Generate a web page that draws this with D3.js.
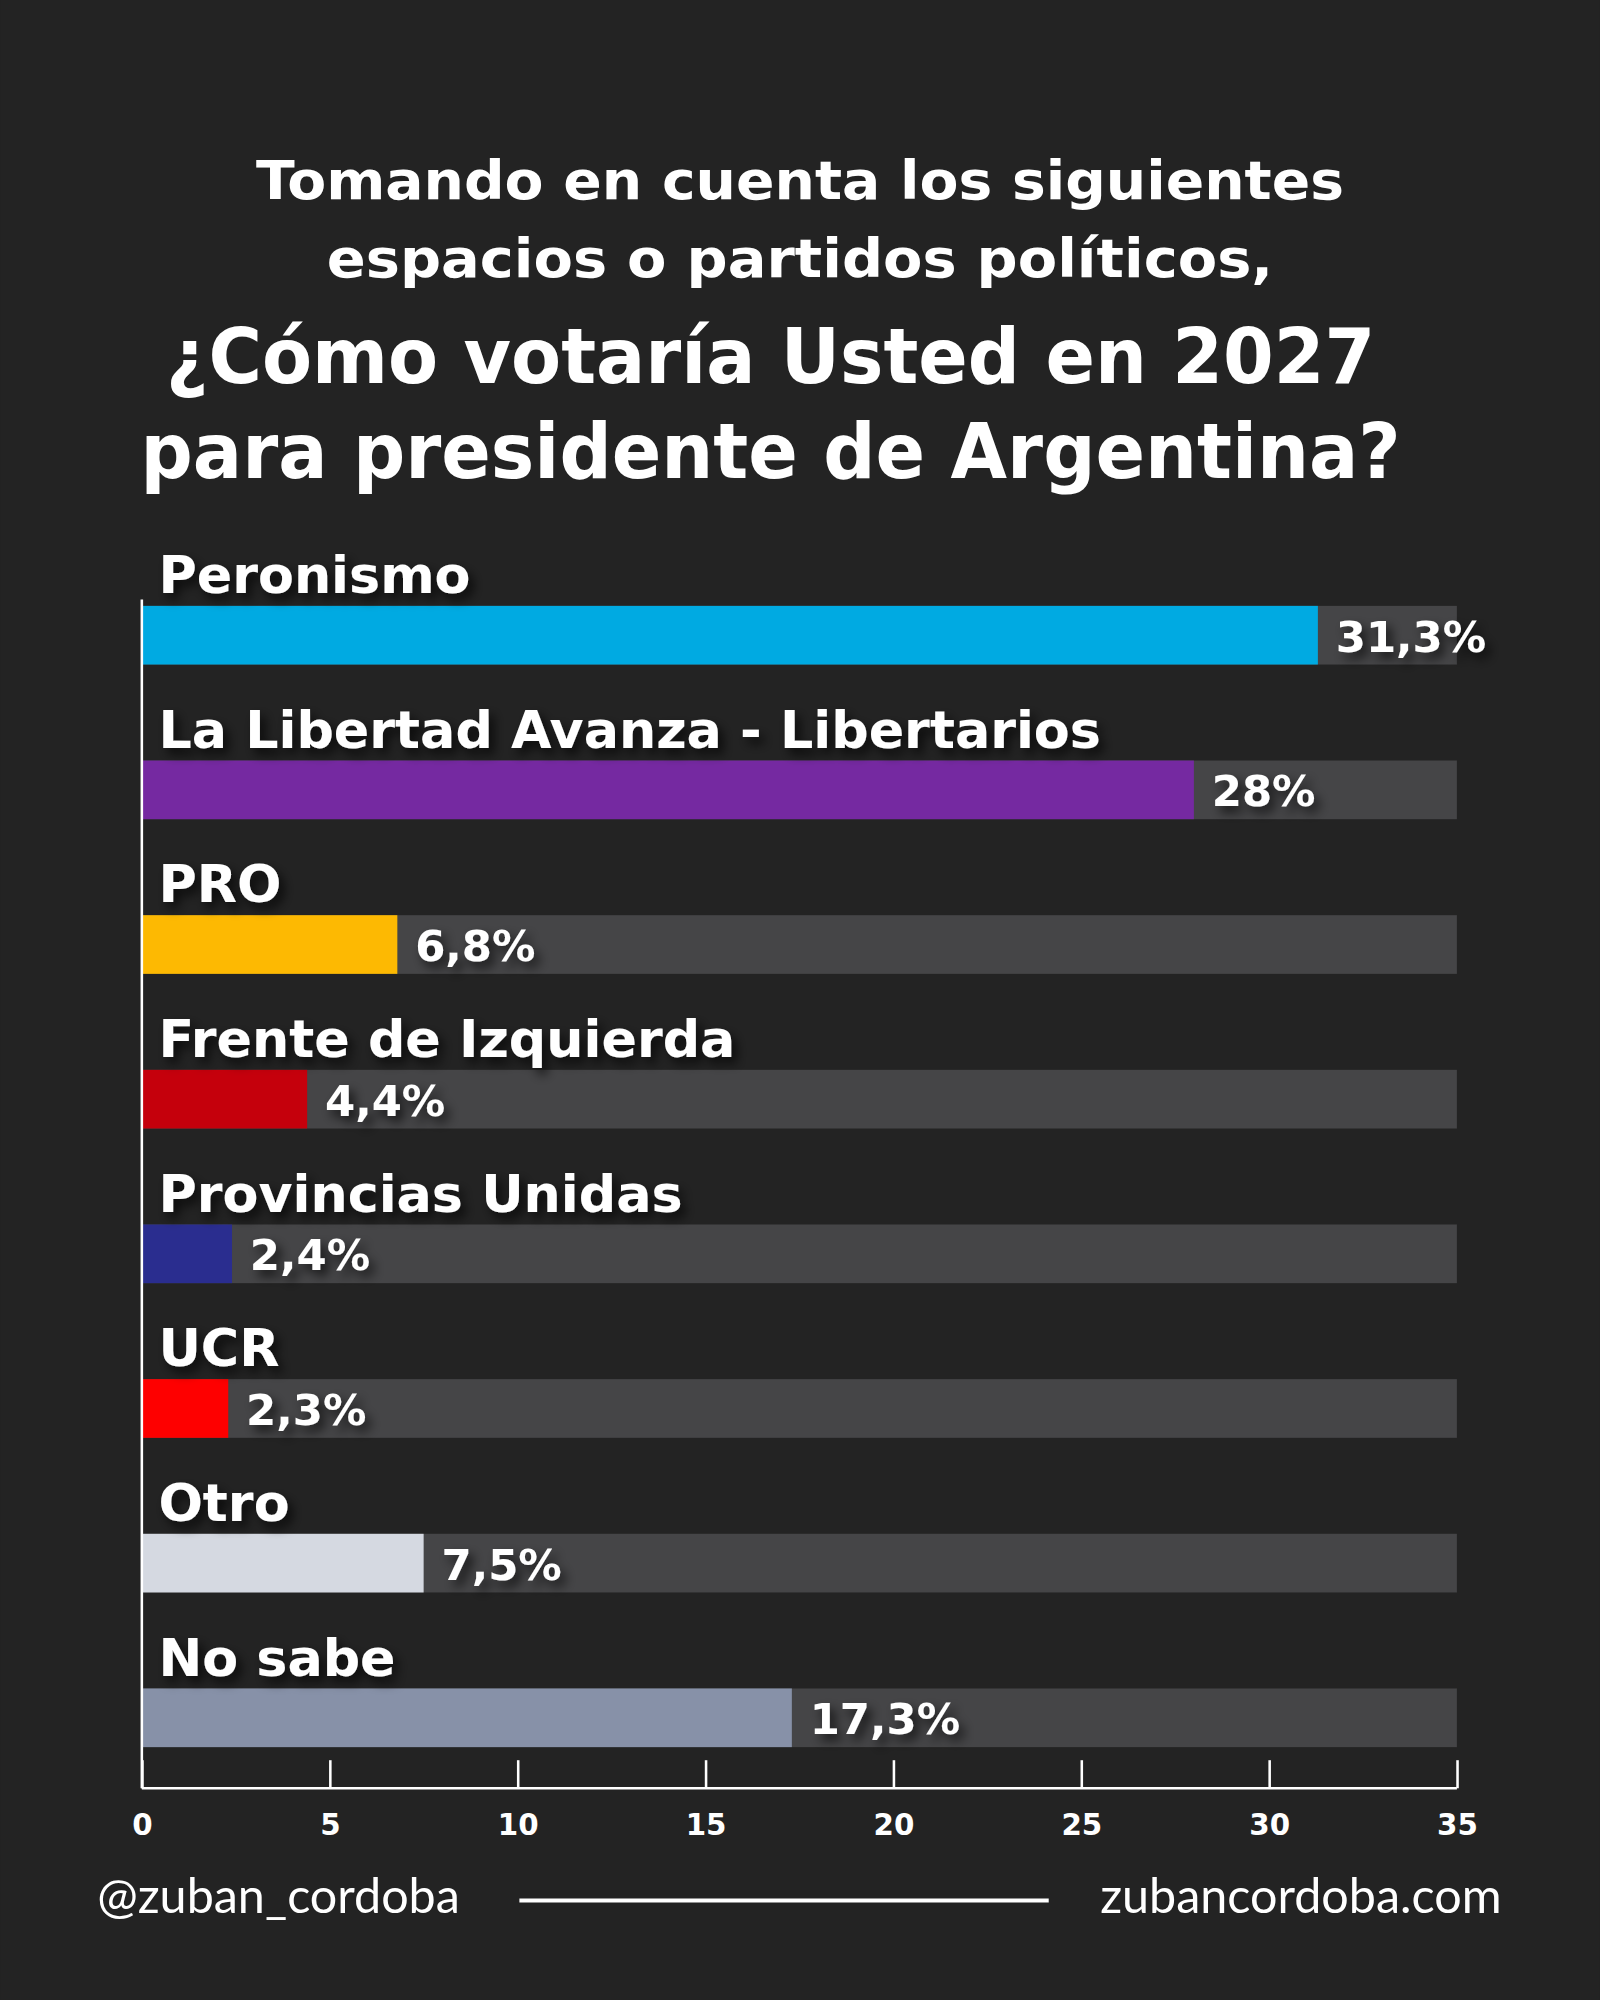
<!DOCTYPE html>
<html>
<head>
<meta charset="utf-8">
<script src="https://cdn.jsdelivr.net/npm/d3@7"></script>
<style>
  body { margin:0; background:#232323; }
  text { font-family: "DejaVu Sans", sans-serif; fill:#fff; }
</style>
</head>
<body>
<div id="chart"></div>
<script>
// chart data
const parties = ["Peronismo", "La Libertad Avanza - Libertarios", "PRO", "Frente de Izquierda",
                 "Provincias Unidas", "UCR", "Otro", "No sabe"];
const values = [31.3, 28, 6.8, 4.4, 2.4, 2.3, 7.5, 17.3];
const valueLabels = ["31,3%", "28%", "6,8%", "4,4%", "2,4%", "2,3%", "7,5%", "17,3%"];
const colors = ["#00aae2", "#7529a1", "#fdb902", "#c5000c", "#2a2d8f", "#fe0000", "#d5d9e1", "#8791a8"];
const ticks = [0, 5, 10, 15, 20, 25, 30, 35];

// drawn in 1254x1568 units, stretched to 1600x2000
const W = 1254, H = 1568;
const svg = d3.select("#chart").append("svg")
  .attr("width", 1600).attr("height", 2000)
  .attr("viewBox", [0, 0, W, H]);

svg.append("rect").attr("width", W).attr("height", H).attr("fill", "#232323");

// drop shadow for labels
const f = svg.append("defs").append("filter").attr("id", "sh")
  .attr("x", "-10%").attr("y", "-30%").attr("width", "130%").attr("height", "180%");
f.append("feDropShadow").attr("dx", 4).attr("dy", 5).attr("stdDeviation", 4)
  .attr("flood-color", "#000").attr("flood-opacity", 0.7);

// title
const titles = [
  {t:"Tomando en cuenta los siguientes", y:156, s:42, w:853},
  {t:"espacios o partidos políticos,", y:217, s:42, w:742},
  {t:"¿Cómo votaría Usted en 2027", y:300, s:60, w:948},
  {t:"para presidente de Argentina?", y:375, s:60, w:988}
];
svg.selectAll(".title").data(titles).enter().append("text")
  .attr("class", "title")
  .attr("x", (d, i) => i < 2 ? 627 : 604)
  .attr("y", d => d.y)
  .attr("text-anchor", "middle")
  .attr("font-size", d => d.s)
  .attr("font-weight", "bold")
  .attr("textLength", d => d.w)
  .attr("lengthAdjust", "spacingAndGlyphs")
  .text(d => d.t);

const x = d3.scaleLinear().domain([0, 35]).range([111, 1142]);
const y = d3.scaleBand().domain(d3.range(parties.length)).range([415, 1385]).paddingInner(0);
const barH = 46;
const barY = i => y(i) + 60;

// tracks
svg.selectAll(".track").data(values).enter().append("rect")
  .attr("x", x(0)).attr("y", (d, i) => barY(i))
  .attr("width", x(35) - x(0)).attr("height", barH)
  .attr("fill", "#454547");

svg.selectAll(".bar").data(values).enter().append("rect")
  .attr("x", x(0)).attr("y", (d, i) => barY(i))
  .attr("width", d => x(d) - x(0)).attr("height", barH)
  .attr("fill", (d, i) => colors[i]);

svg.selectAll(".name").data(parties).enter().append("text")
  .attr("x", 124).attr("y", (d, i) => barY(i) - 10)
  .attr("font-size", 41).attr("font-weight", "bold")
  .attr("filter", "url(#sh)")
  .text(d => d);

svg.selectAll(".val").data(values).enter().append("text")
  .attr("x", d => x(d) + 14).attr("y", (d, i) => barY(i) + barH / 2 + 13)
  .attr("font-size", 34).attr("font-weight", "bold")
  .attr("filter", "url(#sh)")
  .text((d, i) => valueLabels[i]);

// axis
const ax = svg.append("g").attr("transform", "translate(0,1402)")
  .call(d3.axisBottom(x).tickValues(ticks).tickSize(-22).tickPadding(20));
ax.select(".domain").remove();
ax.selectAll("line").attr("stroke", "#fff").attr("stroke-width", 2);
ax.selectAll("text").attr("font-size", 23).attr("font-weight", "bold").attr("fill", "#fff");
svg.append("line").attr("x1", x(0)).attr("x2", x(35)).attr("y1", 1402).attr("y2", 1402)
  .attr("stroke", "#fff").attr("stroke-width", 2);
svg.append("line").attr("x1", x(0)).attr("x2", x(0)).attr("y1", 470).attr("y2", 1402)
  .attr("stroke", "#fff").attr("stroke-width", 2);

// footer
svg.append("text").attr("x", 76).attr("y", 1500).attr("font-size", 38)
  .style("font-family", "Lato, sans-serif").text("@zuban_cordoba");
svg.append("line").attr("x1", 407).attr("x2", 822).attr("y1", 1490).attr("y2", 1490)
  .attr("stroke", "#fff").attr("stroke-width", 3);
svg.append("text").attr("x", 1177).attr("y", 1500).attr("font-size", 38)
  .style("font-family", "Lato, sans-serif")
  .attr("text-anchor", "end").text("zubancordoba.com");
</script>
</body>
</html>
